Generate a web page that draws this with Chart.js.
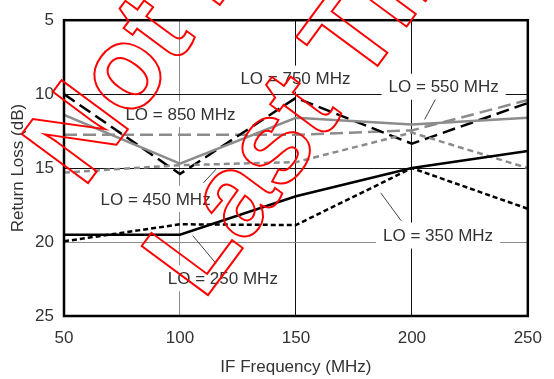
<!DOCTYPE html>
<html>
<head>
<meta charset="utf-8">
<script src="https://cdn.jsdelivr.net/npm/chart.js@4.4.1/dist/chart.umd.min.js"></script>
<style>
  html, body { margin: 0; padding: 0; background: #fff; }
  canvas { display: block; }
</style>
</head>
<body>
<canvas id="c" width="554" height="379"></canvas>
<script>
// ---- data ----
const ifFreq = [50, 100, 150, 200, 250];           // IF Frequency (MHz)
const lo250 = [19.5, 19.5, 16.9, 15.0, 13.85];     // black solid
const lo350 = [19.95, 18.8, 18.85, 15.0, 17.75];   // black short dash
const lo450 = [15.3, 14.8, 14.6, 12.6, 15.0];      // gray short dash
const lo550 = [11.4, 14.7, 11.6, 12.05, 11.6];     // gray solid
const lo750 = [10.0, 15.4, 10.25, 13.35, 10.6];    // black long dash
const lo850 = [12.75, 12.75, 12.75, 12.45, 10.4];  // gray long dash
const xTicks = [50, 100, 150, 200, 250];
const yTicks = [5, 10, 15, 20, 25];
const labelTexts = ['LO = 850 MHz', 'LO = 750 MHz', 'LO = 550 MHz', 'LO = 450 MHz', 'LO = 250 MHz', 'LO = 350 MHz'];

// ---- annotation placement (data coordinates) ----
const labelPos = [[100.2, 11.35], [149.8, 8.95], [213.7, 9.5], [89.5, 17.08], [118.5, 22.45], [211.3, 19.56]];
const leaders = [
  [[210.1, 10.37], [205.5, 11.71]],
  [[110.1, 16.0], [116.0, 15.0]],
  [[105.5, 19.56], [115.5, 21.44]],
  [[186.6, 16.68], [195.4, 18.56]]
];

const pts = arr => arr.map((v, i) => ({ x: ifFreq[i], y: v }));
const BLACK = '#000000', GRAY = '#8c8c8c';
const FONT = '"Liberation Sans", Arial, sans-serif';

function ds(label, arr, color, dash, width) {
  return { label, data: pts(arr), borderColor: color, borderWidth: width, borderDash: dash,
           pointRadius: 0, fill: false, tension: 0, borderCapStyle: 'butt', borderJoinStyle: 'miter' };
}

const annot = {
  id: 'annot',
  beforeDatasetsDraw(chart) {
    const { ctx, scales: { x, y } } = chart;
    ctx.save();
    ctx.font = '17px ' + FONT;
    ctx.textAlign = 'center';
    ctx.textBaseline = 'middle';
    labelTexts.forEach((t, i) => {
      const px = x.getPixelForValue(labelPos[i][0]);
      const py = y.getPixelForValue(labelPos[i][1]);
      const w = ctx.measureText(t).width;
      ctx.fillStyle = '#fff';
      ctx.fillRect(px - w / 2 - 7, py - 13, w + 14, 26);
      ctx.fillStyle = '#333';
      ctx.fillText(t, px, py + 1);
    });
    ctx.strokeStyle = '#444';
    ctx.lineWidth = 1;
    leaders.forEach(l => {
      ctx.beginPath();
      ctx.moveTo(x.getPixelForValue(l[0][0]), y.getPixelForValue(l[0][1]));
      ctx.lineTo(x.getPixelForValue(l[1][0]), y.getPixelForValue(l[1][1]));
      ctx.stroke();
    });
    ctx.restore();
  },
  afterDatasetsDraw(chart) {
    const { ctx, chartArea: a } = chart;
    ctx.save();
    ctx.strokeStyle = '#000';
    ctx.lineWidth = 2.5;
    ctx.strokeRect(a.left, a.top, a.right - a.left, a.bottom - a.top);
    ctx.restore();
  },
  afterDraw(chart) {
    const ctx = chart.ctx;
    ctx.save();
    ctx.strokeStyle = '#ff0000';
    ctx.lineWidth = 2;
    ctx.lineJoin = 'miter';
    ctx.font = 'bold 120px ' + FONT;
    ctx.textBaseline = 'alphabetic';
    ctx.textAlign = 'left';
    const ang = -53.5 * Math.PI / 180;
    [['Not Recommended for New Designs', 83.4, 189.2], ['Last Time Buy', 203.4, 301.2]].forEach(([t, tx, ty]) => {
      ctx.save();
      ctx.translate(tx, ty);
      ctx.rotate(ang);
      ctx.scale(0.95, 1);
      ctx.strokeText(t, 0, 0);
      ctx.restore();
    });
    ctx.restore();
  }
};

new Chart(document.getElementById('c'), {
  type: 'line',
  data: {
    datasets: [
      ds('LO = 250 MHz', lo250, BLACK, [], 2.5),
      ds('LO = 350 MHz', lo350, BLACK, [5, 3], 2.5),
      ds('LO = 450 MHz', lo450, GRAY, [6, 4], 2.5),
      ds('LO = 550 MHz', lo550, GRAY, [], 2.5),
      ds('LO = 750 MHz', lo750, BLACK, [13, 6], 2.5),
      ds('LO = 850 MHz', lo850, GRAY, [13, 6], 2.5)
    ]
  },
  options: {
    responsive: false,
    animation: false,
    devicePixelRatio: 1,
    layout: { padding: { top: 18, right: 0, left: 0, bottom: 0 } },
    plugins: { legend: { display: false }, tooltip: { enabled: false } },
    scales: {
      x: {
        type: 'linear', min: 50, max: 250,
        afterBuildTicks: s => { s.ticks = xTicks.map(v => ({ value: v })); },
        afterFit: s => { s.height = 63; },
        ticks: { color: '#333', font: { size: 17, family: FONT }, padding: 12, maxRotation: 0 },
        grid: {
          drawTicks: false,
          lineWidth: 1,
          color: c => (c.tick && (c.tick.value === 50 || c.tick.value === 250)) ? 'rgba(0,0,0,0)' :
                      (c.tick && c.tick.value === 100 ? GRAY : '#111')
        },
        border: { display: false },
        title: { display: true, text: 'IF Frequency (MHz)', color: '#333',
                 font: { size: 17, family: FONT }, padding: { top: 0, bottom: 1 } }
      },
      y: {
        type: 'linear', min: 5, max: 25, reverse: true,
        afterBuildTicks: s => { s.ticks = yTicks.map(v => ({ value: v })); },
        afterFit: s => { s.width = 64; },
        ticks: { color: '#333', font: { size: 17, family: FONT }, padding: 10 },
        grid: {
          drawTicks: false,
          lineWidth: 1,
          color: c => (c.tick && (c.tick.value === 5 || c.tick.value === 25)) ? 'rgba(0,0,0,0)' :
                      (c.tick && c.tick.value === 20 ? GRAY : '#111')
        },
        border: { display: false },
        title: { display: true, text: 'Return Loss (dB)', color: '#333',
                 font: { size: 17, family: FONT }, padding: { top: 8, bottom: 0 } }
      }
    }
  },
  plugins: [annot]
});
</script>
</body>
</html>
